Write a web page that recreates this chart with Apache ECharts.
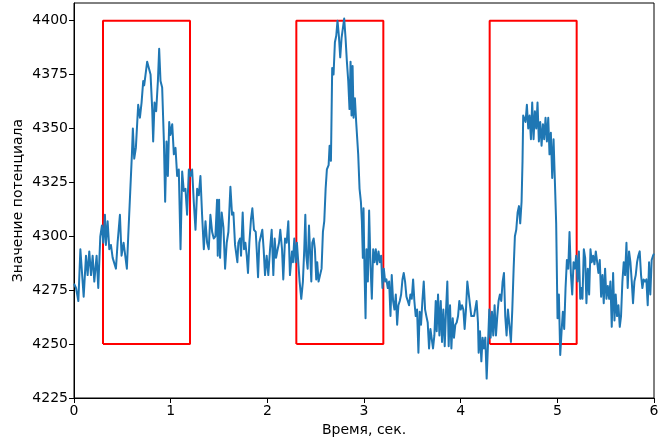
<!DOCTYPE html>
<html><head><meta charset="utf-8">
<script src="https://cdn.jsdelivr.net/npm/echarts@6/dist/echarts.min.js"></script>
<style>html,body{margin:0;padding:0;background:#fff}#c{width:664px;height:442px}</style>
</head><body><div id="c"></div>
<script>
const times = [
0.000,0.021,0.045,0.066,0.100,0.124,0.141,0.158,0.176,0.193,0.210,0.234,0.251,0.272,0.289,0.303,0.320,0.330,0.348,0.365,
0.382,0.400,0.434,0.451,0.475,0.492,0.513,0.530,0.547,0.561,0.582,0.599,0.609,0.623,0.640,0.664,0.682,0.699,0.716,0.726,
0.740,0.757,0.775,0.792,0.809,0.819,0.833,0.850,0.868,0.881,0.895,0.912,0.930,0.943,0.957,0.971,0.985,0.998,1.016,1.033,
1.050,1.067,1.084,1.102,1.119,1.136,1.153,1.170,1.188,1.205,1.222,1.239,1.257,1.274,1.291,1.308,1.325,1.343,1.360,1.377,
1.394,1.411,1.429,1.446,1.463,1.480,1.487,1.501,1.511,1.528,1.546,1.563,1.580,1.597,1.618,1.635,1.649,1.666,1.690,1.700,
1.718,1.728,1.745,1.759,1.773,1.787,1.800,1.814,1.831,1.845,1.862,1.880,1.890,1.904,1.917,1.935,1.948,1.962,1.976,1.993,
2.010,2.028,2.045,2.062,2.076,2.090,2.107,2.121,2.134,2.152,2.165,2.183,2.200,2.217,2.234,2.255,2.265,2.279,2.293,2.306,
2.320,2.334,2.351,2.368,2.382,2.393,2.403,2.417,2.431,2.444,2.455,2.465,2.479,2.492,2.506,2.516,2.530,2.548,2.561,2.575,
2.589,2.603,2.616,2.634,2.644,2.658,2.671,2.685,2.699,2.713,2.726,2.740,2.754,2.768,2.782,2.795,2.809,2.823,2.837,2.850,
2.861,2.871,2.882,2.892,2.906,2.919,2.940,2.954,2.968,2.978,2.988,2.995,3.005,3.016,3.026,3.040,3.053,3.067,3.081,3.095,
3.109,3.122,3.136,3.150,3.164,3.177,3.191,3.205,3.219,3.232,3.246,3.260,3.274,3.287,3.301,3.315,3.329,3.343,3.356,3.370,
3.384,3.398,3.411,3.425,3.439,3.453,3.466,3.480,3.494,3.508,3.521,3.535,3.549,3.563,3.576,3.590,3.604,3.618,3.632,3.645,
3.659,3.673,3.687,3.700,3.714,3.728,3.742,3.752,3.766,3.780,3.794,3.807,3.821,3.835,3.849,3.862,3.876,3.890,3.904,3.918,
3.931,3.945,3.959,3.973,3.986,4.000,4.014,4.028,4.041,4.055,4.069,4.083,4.097,4.110,4.124,4.138,4.152,4.165,4.179,4.186,
4.200,4.214,4.227,4.241,4.255,4.269,4.282,4.296,4.310,4.324,4.337,4.351,4.365,4.379,4.392,4.406,4.420,4.434,4.448,4.461,
4.475,4.489,4.506,4.520,4.534,4.548,4.561,4.575,4.589,4.603,4.616,4.630,4.640,4.647,4.658,4.671,4.685,4.699,4.713,4.727,
4.740,4.754,4.768,4.782,4.795,4.809,4.823,4.837,4.851,4.864,4.878,4.892,4.906,4.919,4.933,4.947,4.961,4.975,4.988,5.002,
5.016,5.030,5.044,5.057,5.071,5.085,5.099,5.113,5.126,5.140,5.154,5.168,5.182,5.195,5.209,5.223,5.237,5.250,5.260,5.274,
5.288,5.301,5.315,5.329,5.343,5.356,5.370,5.384,5.398,5.412,5.425,5.439,5.453,5.467,5.480,5.494,5.508,5.522,5.536,5.549,
5.563,5.577,5.591,5.604,5.618,5.632,5.646,5.659,5.673,5.687,5.701,5.715,5.728,5.742,5.756,5.770,5.783,5.797,5.811,5.825,
5.838,5.852,5.866,5.880,5.893,5.907,5.921,5.935,5.949,5.962,5.976,5.990,6.000
];
const values = [
4278,4276,4270,4294,4272,4291,4282,4293,4282,4291,4279,4291,4276,4300,4305,4297,4310,4296,4307,4294,
4296,4290,4285,4297,4310,4291,4297,4291,4285,4300,4321,4338,4350,4336,4341,4361,4355,4362,4372,4370,
4370,4381,4381,4375,4359,4344,4362,4358,4372,4387,4372,4369,4344,4316,4344,4328,4353,4347,4352,4338,
4341,4328,4331,4294,4330,4321,4322,4310,4331,4328,4331,4316,4303,4322,4319,4328,4310,4294,4307,4297,
4294,4310,4302,4299,4300,4317,4291,4317,4290,4311,4304,4285,4297,4302,4323,4310,4311,4296,4288,4297,
4299,4291,4311,4294,4297,4291,4283,4297,4308,4313,4303,4302,4294,4281,4297,4297,4303,4294,4282,4291,
4282,4294,4303,4282,4299,4290,4294,4297,4303,4294,4280,4299,4297,4307,4282,4293,4288,4299,4288,4297,
4288,4279,4271,4279,4294,4310,4291,4285,4305,4291,4279,4297,4299,4294,4280,4288,4279,4279,4285,4302,
4307,4322,4331,4333,4342,4335,4378,4375,4390,4393,4400,4393,4383,4392,4392,4401,4392,4381,4372,4359,
4381,4356,4379,4355,4364,4353,4338,4322,4316,4307,4290,4313,4285,4262,4294,4279,4312,4287,4271,4294,
4288,4294,4287,4293,4288,4291,4276,4285,4279,4280,4276,4279,4263,4282,4270,4266,4273,4259,4268,4270,
4273,4280,4283,4279,4272,4270,4268,4273,4271,4280,4270,4263,4266,4246,4265,4259,4270,4279,4266,4263,
4260,4248,4257,4257,4248,4254,4270,4256,4273,4254,4270,4251,4266,4249,4266,4279,4249,4268,4248,4262,
4253,4259,4260,4263,4270,4266,4268,4266,4257,4266,4279,4279,4268,4263,4263,4263,4263,4270,4260,4246,
4256,4242,4253,4248,4253,4234,4249,4266,4253,4265,4254,4268,4254,4263,4270,4273,4270,4279,4283,4263,
4254,4266,4266,4251,4266,4285,4300,4303,4311,4314,4306,4316,4335,4356,4356,4353,4361,4350,4356,4345,
4362,4345,4358,4350,4362,4344,4353,4342,4352,4345,4355,4344,4355,4338,4348,4327,4345,4325,4306,4262,
4273,4245,4256,4265,4257,4276,4289,4285,4302,4283,4273,4288,4285,4291,4279,4293,4271,4276,4271,4294,
4290,4269,4285,4273,4294,4288,4291,4287,4293,4288,4283,4289,4272,4282,4269,4285,4271,4277,4271,4279,
4258,4283,4261,4273,4263,4268,4258,4263,4279,4288,4282,4297,4276,4293,4288,4279,4269,4279,4282,4288,
4291,4293,4282,4276,4280,4279,4280,4268,4288,4273,4289,4291,4292
];
const boxStarts = [0.3, 2.3, 4.3];
const boxEnds = [1.2, 3.2, 5.2];
const boxBottom = 4250;
const boxTop = 4400;
const xTicks = [0, 1, 2, 3, 4, 5, 6];
const yTicks = [4225, 4250, 4275, 4300, 4325, 4350, 4375, 4400];
const xLabel = 'Время, сек.';
const yLabel = 'Значение потенциала';

const FONT = 'DejaVu Sans';
const chart = echarts.init(document.getElementById('c'), null, {renderer: 'canvas'});
const series = [];
boxStarts.forEach((s, i) => {
  const e = boxEnds[i];
  series.push({
    type: 'line', silent: true, symbol: 'none', animation: false,
    lineStyle: {color: '#ff0000', width: 2},
    data: [[s, boxBottom], [s, boxTop], [e, boxTop], [e, boxBottom], [s, boxBottom]]
  });
});
series.push({
  type: 'line', symbol: 'none', animation: false,
  lineStyle: {color: '#1f77b4', width: 2, join: 'round'},
  data: times.map((t, i) => [t, values[i]])
});
chart.setOption({
  animation: false,
  backgroundColor: '#fff',
  grid: {left: 74, right: 10, top: 3, bottom: 44, show: true, borderColor: '#000', borderWidth: 1,
         containLabel: false, outerBoundsMode: 'none'},
  xAxis: {
    type: 'value', min: 0, max: 6,
    name: xLabel, nameLocation: 'middle', nameGap: 25, nameMoveOverlap: false,
    nameTextStyle: {fontFamily: FONT, fontSize: 14, color: '#000'},
    axisLine: {show: true, lineStyle: {color: '#000', width: 1}},
    axisTick: {show: true, length: 5, lineStyle: {color: '#000'}, customValues: xTicks},
    axisLabel: {fontFamily: FONT, fontSize: 14, color: '#000', margin: 6, customValues: xTicks,
                formatter: v => String(v)},
    splitLine: {show: false}
  },
  yAxis: {
    type: 'value', min: 4225, max: 4408.2,
    name: yLabel, nameLocation: 'middle', nameGap: 49, nameMoveOverlap: false,
    nameTextStyle: {fontFamily: FONT, fontSize: 14, color: '#000'},
    axisLine: {show: true, lineStyle: {color: '#000', width: 1}},
    axisTick: {show: true, length: 5, lineStyle: {color: '#000'}, customValues: yTicks},
    axisLabel: {fontFamily: FONT, fontSize: 14, color: '#000', margin: 6, customValues: yTicks,
                formatter: v => String(v)},
    splitLine: {show: false}
  },
  series: series
});
</script></body></html>
